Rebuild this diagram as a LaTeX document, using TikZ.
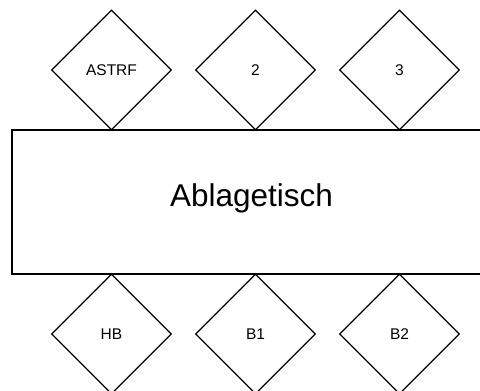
\documentclass[tikz,border=0pt]{standalone}
\usepackage{fontspec}
\setmainfont{Liberation Sans}
\usetikzlibrary{shapes.geometric}
\begin{document}
\begin{tikzpicture}[x=1pt, y=-1pt,
    platz/.style={diamond, draw, line width=1.2pt, minimum width=120pt, minimum height=120pt, inner sep=0pt, font=\fontsize{15.5}{18}\selectfont},
    tisch/.style={rectangle, draw, line width=1.2pt, minimum width=479pt, minimum height=144pt, inner sep=0pt}]
    \clip (0,0) rectangle (480,391);
    \useasboundingbox (0,0) rectangle (480,391);

    % Table in the middle
    \node[tisch] (tisch) at (251.5,202) {};
    \node[anchor=base, font=\fontsize{31.5}{36}\selectfont] (tischtext) at (251.5,206) {Ablagetisch};

    % Places above the table
    \node[platz] (astrf) at (111.5,70) {ASTRF};
    \node[platz] (platz2) at (255.5,70) {2};
    \node[platz] (platz3) at (399.5,70) {3};

    % Places below the table
    \node[platz] (hb) at (111.5,334) {HB};
    \node[platz] (b1) at (255.5,334) {B1};
    \node[platz] (b2) at (399.5,334) {B2};
\end{tikzpicture}
\end{document}
